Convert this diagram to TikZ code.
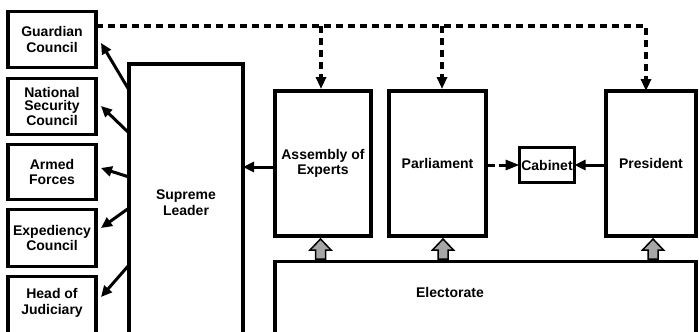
\documentclass[tikz,border=0pt]{standalone}
\usepackage{fontspec}
\setmainfont{Liberation Sans}
\usetikzlibrary{arrows.meta}
\usetikzlibrary{calc}
\tikzset{
  flecha/.style={
    line width=3pt,
    -{Triangle[length=11pt,width=10pt]}
  },
  punteada/.style={
    line width=3.5pt,
    dash pattern=on 7pt off 5pt,
    -{Triangle[length=12pt,width=10pt]}
  }
}
\begin{document}
\begin{tikzpicture}[x=1pt,y=-1pt] % Estilos de nodos
\tikzstyle{caja} = [rectangle, draw, line width=3.5pt, inner sep=0pt, outer sep=0pt, align=center, font=\fontsize{14}{15.5}\selectfont\bfseries]
\tikzstyle{lado} = [caja, minimum width=88pt, minimum height=56pt]
\tikzstyle{texto} = [inner sep=0pt, align=center, font=\fontsize{14}{16}\selectfont\bfseries]
\tikzstyle{bloque} = [draw, line width=1.5pt, fill=black!35, line join=miter]
\path[use as bounding box, clip] (0,0) rectangle (699,332);
% Consejos a la izquierda
\node (gc) [lado] at (52,39.5) {Guardian\\Council};
\node (nsc) [lado, font=\fontsize{14}{13}\selectfont\bfseries] at (52,106.5) {National\\Security\\Council};
\node (af) [lado, minimum height=55pt] at (52,172) {Armed\\Forces};
\node (ec) [lado, minimum height=57pt] at (52,238) {Expediency\\Council};
\node (hj) [lado, minimum height=90pt, anchor=north] at (52,276.5) {};
\node (hjtxt) [texto] at (52,303) {Head of\\Judiciary};
% Lider y organos electos
\node (sl) [caja, minimum width=114pt, minimum height=277pt, anchor=north] at (186,64) {Supreme\\Leader};
\node (ae) [caja, minimum width=96pt, minimum height=145pt] at (323,163.5) {Assembly of\\Experts};
\node (pa) [caja, minimum width=97pt, minimum height=145pt] at (437.5,163.5) {Parliament};
\node (pr) [caja, minimum width=90pt, minimum height=145pt] at (651,163.5) {President};
\node (cab) [caja, line width=3pt, minimum width=55pt, minimum height=35pt] at (547,165) {Cabinet};
\node (el) [caja, minimum width=421pt, minimum height=100pt, anchor=north] at (485.5,261.5) {};
\node (eltxt) [texto] at (450,292.5) {Electorate};
% Flechas del lider hacia los consejos
\foreach \n/\s/\t in {gc/26/31.5, nsc/69/27.5, af/113/23.5, ec/144/18.5, hj/201/20.5}{ \draw[flecha] ($(sl.north west)+(0,\s)$) -- ($(\n.north east)+(5,\t)$); }
% Lineas punteadas de aprobacion
\coordinate (dtop) at (646,26);
\draw[punteada] (gc.east |- dtop) -| ([xshift=-5pt]pr.north);
\foreach \n/\dx in {ae/-2, pa/4.5}{ \coordinate (d\n) at ($(\n.north)+(\dx,-2)$); \draw[punteada] (d\n |- dtop) -- (d\n); }
% Flechas horizontales
\draw[flecha] ($(ae.west)+(0,3.5)$) coordinate (h1) -- (sl.east |- h1);
\draw[line width=3pt, dash pattern=on 9pt off 4pt, -{Triangle[length=14pt,width=10pt]}] (pa.east |- cab.west) -- (cab.west);
\draw[flecha] (pr.west |- cab.east) -- (cab.east);
% Flechas grises del electorado
\foreach \n/\dx in {ae/-2.5, pa/5.5, pr/2}{ \draw[bloque] ($(\n.south)+(\dx,23)$) ++(-5,0) -- ++(0,-9) -- ++(-5.5,0) -- ++(10.5,-11) -- ++(10.5,11) -- ++(-5.5,0) -- ++(0,9) -- cycle; }
\end{tikzpicture}
\end{document}
